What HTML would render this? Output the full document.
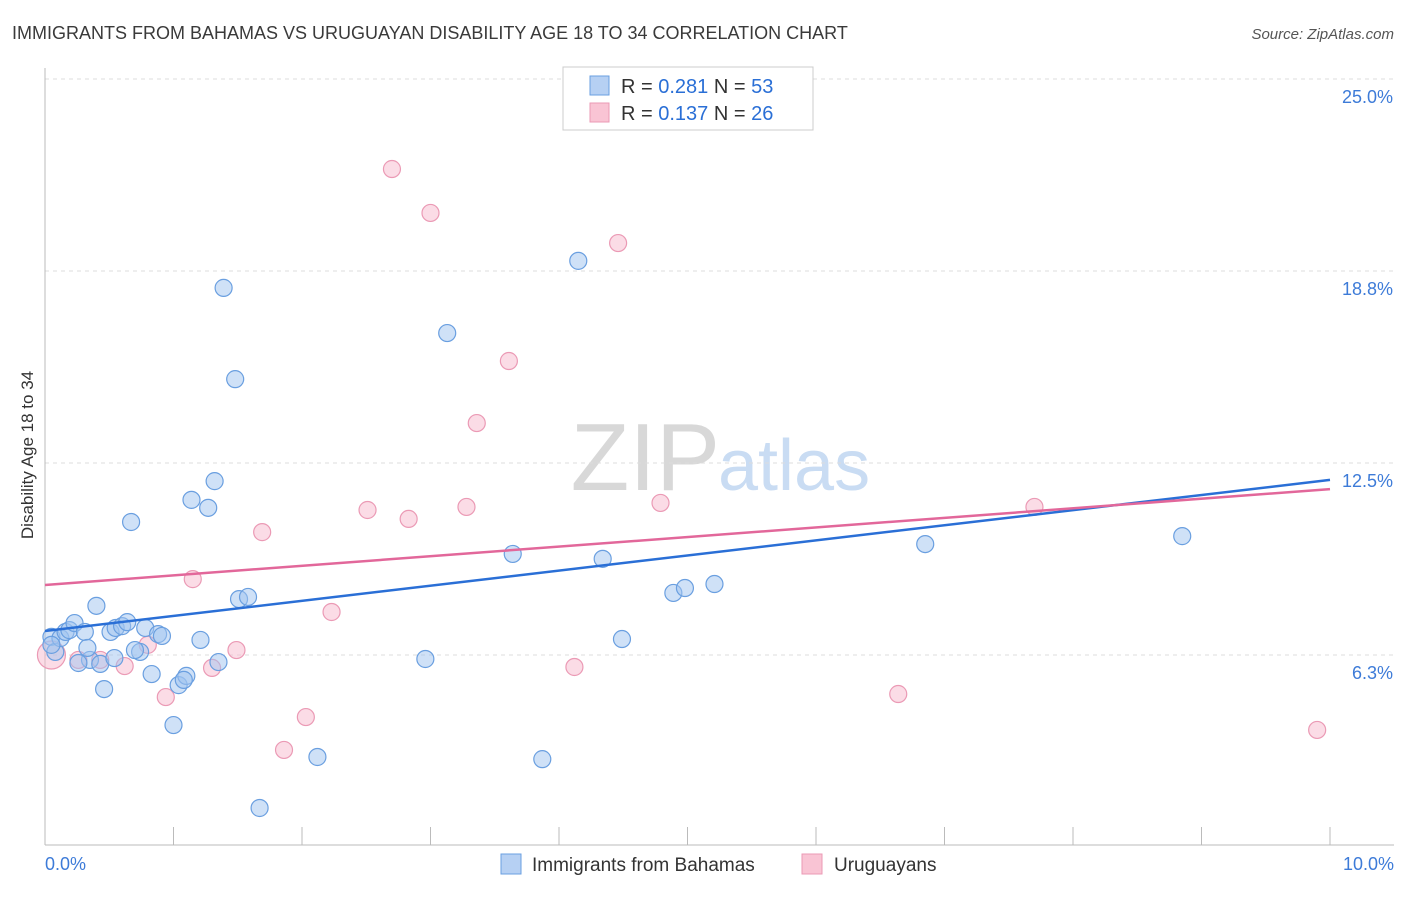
<!DOCTYPE html>
<html><head><meta charset="utf-8"><style>
body{margin:0;background:#fff;font-family:"Liberation Sans",sans-serif}
svg text{font-family:"Liberation Sans",sans-serif}
</style></head><body>
<svg id="chart" width="1406" height="892" xmlns="http://www.w3.org/2000/svg">
<text x="12" y="39" font-size="18" fill="#3a3a3a">IMMIGRANTS FROM BAHAMAS VS URUGUAYAN DISABILITY AGE 18 TO 34 CORRELATION CHART</text>
<text x="1394" y="39" font-size="15" fill="#555" font-style="italic" text-anchor="end">Source: ZipAtlas.com</text>
<text x="720" y="490" font-size="96" fill="#d8d8d8" text-anchor="end" font-family="Liberation Serif">ZIP</text>
<text x="718" y="490" font-size="72" fill="#c9dcf3">atlas</text>
<g id="grid"></g><g id="ticks"></g>
<line x1="45" y1="68" x2="45" y2="845" stroke="#bbb"/>
<line x1="45" y1="845" x2="1394" y2="845" stroke="#bbb"/>
<text transform="translate(33,455) rotate(-90)" font-size="17" fill="#333" text-anchor="middle">Disability Age 18 to 34</text>
<text x="45" y="870" font-size="18" fill="#3d7bd8">0.0%</text>
<text x="1394" y="870" font-size="18" fill="#3d7bd8" text-anchor="end">10.0%</text>
<g id="pts"></g><g id="lines"></g>
<g>
<rect x="563" y="67" width="250" height="63" fill="#fff" stroke="#ccc"/>
<rect x="590" y="76" width="19" height="19" fill="#b6d0f3" stroke="#6a9fe0"/>
<rect x="590" y="103" width="19" height="19" fill="#f9c4d4" stroke="#eb9ab5"/>
<text x="621" y="93" font-size="20" fill="#333">R = <tspan fill="#2a6fd6">0.281</tspan>   N = <tspan fill="#2a6fd6">53</tspan></text>
<text x="621" y="120" font-size="20" fill="#333">R = <tspan fill="#2a6fd6">0.137</tspan>   N = <tspan fill="#2a6fd6">26</tspan></text>
</g>
<g>
<rect x="501" y="854" width="20" height="20" fill="#b6d0f3" stroke="#6a9fe0"/>
<text x="532" y="871" font-size="19" fill="#333">Immigrants from Bahamas</text>
<rect x="802" y="854" width="20" height="20" fill="#f9c4d4" stroke="#eb9ab5"/>
<text x="834" y="871" font-size="19" fill="#333">Uruguayans</text>
</g>
</svg>
<script>
const yTicks=[6.25,12.5,18.75,25];
const yTickLabels=["6.3%","12.5%","18.8%","25.0%"];
const xTicks=[0,1,2,3,4,5,6,7,8,9,10];
const blueX=[0.05,0.08,0.12,0.16,0.19,0.23,0.31,0.40,0.35,0.26,0.43,0.33,0.46,0.51,0.55,0.60,0.64,0.54,0.74,0.70,0.78,0.88,0.91,0.83,1.00,1.04,1.10,1.08,1.21,1.35,0.67,1.14,1.27,1.32,1.39,1.48,1.51,1.58,1.67,2.12,2.96,3.13,3.64,3.87,4.15,4.34,4.49,4.89,4.98,5.21,6.85,8.85,0.05];
const blueY=[6.84,6.35,6.80,7.00,7.06,7.29,7.00,7.85,6.09,5.99,5.96,6.48,5.14,7.00,7.13,7.19,7.32,6.15,6.35,6.41,7.13,6.93,6.87,5.63,3.97,5.27,5.57,5.44,6.74,6.02,10.58,11.30,11.04,11.91,18.20,15.23,8.07,8.14,1.27,2.93,6.12,16.73,9.54,2.86,19.08,9.38,6.77,8.27,8.43,8.56,9.86,10.12,6.58];
const pinkX=[0.05,0.26,0.43,0.62,0.80,0.94,1.15,1.30,1.49,1.69,1.86,2.03,2.23,2.51,2.70,2.83,3.00,3.28,3.36,3.61,4.12,4.46,4.79,6.64,7.70,9.90];
const pinkY=[6.25,6.09,6.09,5.89,6.58,4.88,8.72,5.83,6.41,10.25,3.16,4.23,7.65,10.97,22.07,10.68,20.64,11.07,13.80,15.82,5.86,19.66,11.20,4.98,11.07,3.81];
const blueTrend=[7.03,11.95];
const pinkTrend=[8.53,11.65];
const NS="http://www.w3.org/2000/svg";
const xs=v=>45+v*128.5, ys=v=>847-v*30.72;
function mk(t,a,p){const e=document.createElementNS(NS,t);for(const k in a)e.setAttribute(k,a[k]);p.appendChild(e);return e;}
const grid=document.getElementById('grid'),ticks=document.getElementById('ticks'),pts=document.getElementById('pts'),lines=document.getElementById('lines');
yTicks.forEach((v,i)=>{
 const l=mk('line',{x1:45,x2:1394,y1:ys(v),y2:ys(v),stroke:'#ddd','stroke-dasharray':'4,4'},grid);
 
 
 const t=mk('text',{x:1393,y:ys(v)+24,'font-size':18,fill:'#3d7bd8','text-anchor':'end'},ticks);
 t.textContent=yTickLabels[i];
 
 
});
xTicks.forEach(v=>{
 const l=mk('line',{x1:xs(v),x2:xs(v),y1:827,y2:845,stroke:'#bbb'},ticks);
 
 
});
pinkX.forEach((x,i)=>{
 const c=mk('circle',{cx:xs(x),cy:ys(pinkY[i]),r:i===0?14:8.5,fill:'rgba(248,185,205,0.5)',stroke:'#eb9ab5','stroke-width':1.2},pts);
 
 
});
blueX.forEach((x,i)=>{
 const c=mk('circle',{cx:xs(x),cy:ys(blueY[i]),r:8.5,fill:'rgba(160,196,240,0.5)',stroke:'#6a9fe0','stroke-width':1.2},pts);
 
 
});
const bl=mk('line',{x1:xs(0),y1:ys(blueTrend[0]),x2:xs(10),y2:ys(blueTrend[1]),stroke:'#2a6fd6','stroke-width':2.5},lines);


const pl=mk('line',{x1:xs(0),y1:ys(pinkTrend[0]),x2:xs(10),y2:ys(pinkTrend[1]),stroke:'#e2679a','stroke-width':2.5},lines);


</script>
</body></html>
